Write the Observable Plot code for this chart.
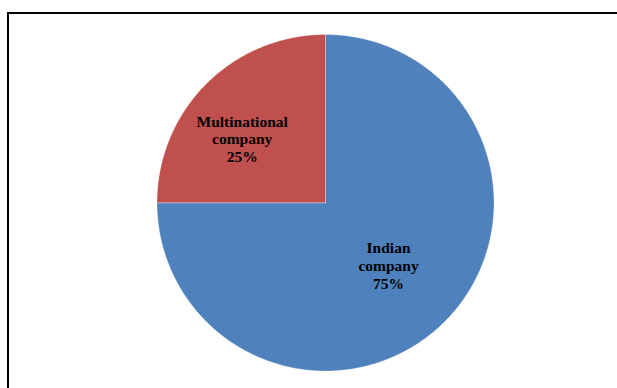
<!DOCTYPE html>
<html>
<head>
<meta charset="utf-8">
<script src="https://cdn.jsdelivr.net/npm/d3@7"></script>
<script src="https://cdn.jsdelivr.net/npm/@observablehq/plot@0.6"></script>
<style>
  html, body { margin: 0; padding: 0; background: #fff; }
  #wrap { position: relative; width: 617px; height: 388px; overflow: hidden; }
  #frame { position: absolute; left: 7px; top: 12px; width: 700px; height: 500px;
           border-left: 2px solid #000; border-top: 2px solid #000; box-sizing: border-box; pointer-events: none; }
  #chart { position: absolute; left: 0; top: 0; }
</style>
</head>
<body>
<div id="wrap"><div id="chart"></div><div id="frame"></div></div>
<script>
const categories = ["Indian company", "Multinational company"];
const values = [75, 25];
const percentLabels = ["75%", "25%"];
const colors = ["#4F81BD", "#C0504D"];

// Pie layout from the data (angles clockwise from 12 o'clock)
const arcs = d3.pie().sort(null).value(d => d.value)(
  categories.map((c, i) => ({category: c, value: values[i], label: percentLabels[i]}))
);

// Outline points of each slice in unit-circle data space
const pts = [];
arcs.forEach(a => {
  const n = Math.max(2, Math.ceil((a.endAngle - a.startAngle) / 0.01));
  pts.push({category: a.data.category, x: 0, y: 0});
  for (let k = 0; k <= n; k++) {
    const t = a.startAngle + (a.endAngle - a.startAngle) * k / n;
    pts.push({category: a.data.category, x: Math.sin(t), y: Math.cos(t)});
  }
  pts.push({category: a.data.category, x: 0, y: 0});
});

const labelR = 0.55;
const labels = arcs.map(a => {
  const m = (a.startAngle + a.endAngle) / 2;
  return {category: a.data.category,
          text: a.data.category.replace(" ", "\n") + "\n" + a.data.label,
          x: labelR * Math.sin(m), y: labelR * Math.cos(m)};
});

const font = "'Liberation Serif', 'Times New Roman', serif";
const chart = Plot.plot({
  width: 617,
  height: 388,
  marginLeft: 156.5,
  marginRight: 123.5,
  marginTop: 34,
  marginBottom: 17.5,
  x: {domain: [-1, 1], axis: null},
  y: {domain: [-1, 1], axis: null},
  color: {domain: categories, range: colors},
  style: {fontFamily: font, background: "transparent"},
  marks: [
    Plot.line(pts, {x: "x", y: "y", z: "category", fill: "category",
                    stroke: "#ffffff", strokeWidth: 0.6, strokeOpacity: 0.5, curve: "linear"}),
    Plot.text(labels.filter(d => d.category === categories[0]), {
      x: "x", y: "y", text: "text", dx: -2.5, dy: -3,
      fontSize: 15.5, fontWeight: "bold", lineHeight: 1.18, fill: "#000", lineAnchor: "middle"}),
    Plot.text(labels.filter(d => d.category === categories[1]), {
      x: "x", y: "y", text: "text", dx: -17.8, dy: 1.3,
      fontSize: 15.5, fontWeight: "bold", lineHeight: 1.13, fill: "#000", lineAnchor: "middle"})
  ]
});
document.getElementById("chart").appendChild(chart);
</script>
</body>
</html>
